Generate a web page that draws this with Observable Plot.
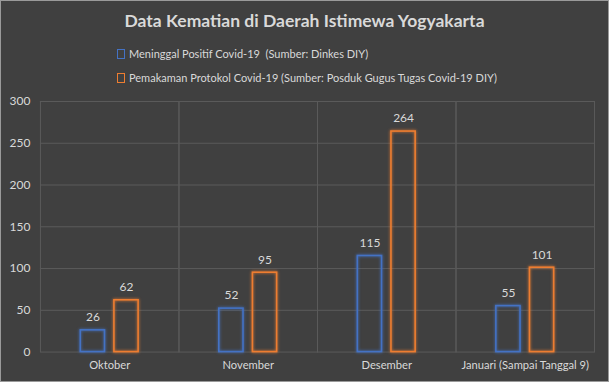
<!DOCTYPE html>
<html><head><meta charset="utf-8">
<script src="https://cdn.jsdelivr.net/npm/d3@7"></script>
<script src="https://cdn.jsdelivr.net/npm/@observablehq/plot@0.6"></script>
<style>
html,body{margin:0;padding:0;background:#404040;}
#wrap{position:relative;width:607px;height:380px;background:#404040;border:1px solid #9a9a9a;font-family:Lato,"Open Sans",sans-serif;color:#d9d9d9;overflow:hidden;}
#title{position:absolute;left:0;width:607px;top:9px;text-align:center;font-size:17.5px;font-weight:bold;color:#d9d9d9;}
.leg{position:absolute;left:116px;font-size:11px;color:#d9d9d9;white-space:nowrap;}
.sw{display:inline-block;width:6px;height:8px;border:1px solid;margin-right:4px;vertical-align:-1px;}
#chart{position:absolute;left:-1px;top:89px;}
.glowB rect{filter:drop-shadow(0 0 1.5px #4472C4);}
.glowO rect{filter:drop-shadow(0 0 1.5px #ED7D31);}
</style></head>
<body>
<div id="wrap">
  <div id="title"></div>
  <div class="leg" id="leg1" style="top:46px"></div>
  <div class="leg" id="leg2" style="top:70px"></div>
  <div id="chart"></div>
</div>
<script>
const title = "Data Kematian di Daerah Istimewa Yogyakarta";
const months = ["Oktober", "November", "Desember", "Januari (Sampai Tanggal 9)"];
const seriesNames = ["Meninggal Positif Covid-19  (Sumber: Dinkes DIY)", "Pemakaman Protokol Covid-19 (Sumber: Posduk Gugus Tugas Covid-19 DIY)"];
const seriesColors = ["#4472C4", "#ED7D31"];
const meninggal = [26, 52, 115, 55];
const pemakaman = [62, 95, 264, 101];
const yTicks = [0, 50, 100, 150, 200, 250, 300];

document.getElementById("title").textContent = title;
[["leg1",0],["leg2",1]].forEach(([id,i])=>{
  const el = document.getElementById(id);
  const sw = document.createElement("span"); sw.className="sw"; sw.style.borderColor=seriesColors[i];
  el.appendChild(sw);
  el.appendChild(document.createTextNode(seriesNames[i].replace(/ /g,"\u00a0")));
});

const rows = [];
months.forEach((m,i)=>{
  rows.push({month:m, series:"A", value:meninggal[i]});
  rows.push({month:m, series:"B", value:pemakaman[i]});
});
const rowsA = rows.filter(d=>d.series==="A");
const rowsB = rows.filter(d=>d.series==="B");

const chart = Plot.plot({
  width: 609,
  height: 293,
  marginTop: 11,
  marginBottom: 31,
  marginLeft: 40,
  marginRight: 14,
  style: {background:"transparent", color:"#d9d9d9", fontSize:"12px", fontFamily:"Lato, 'Open Sans', sans-serif"},
  fx: {domain: months, padding: 0, round: false, label: null, axis: "bottom", tickSize: 0, tickPadding: 9},
  x: {domain: ["A","B"], round: false, paddingInner: 0.28, paddingOuter: 1.2, axis: null},
  y: {domain: [0, 300], ticks: yTicks, label: null, tickSize: 0, tickPadding: 10},
  marks: [
    Plot.ruleY(yTicks.filter(d=>d>0), {stroke:"#5a5a5a", strokeWidth:1}),
    Plot.frame({stroke:"#5a5a5a", strokeWidth:1}),
    Plot.barY(rowsA, {fx:"month", x:"series", y:"value", fill:"none", stroke:seriesColors[0], strokeWidth:1.6, className:"glowB"}),
    Plot.barY(rowsB, {fx:"month", x:"series", y:"value", fill:"none", stroke:seriesColors[1], strokeWidth:1.6, className:"glowO"}),
    Plot.text(rows, {fx:"month", x:"series", y:"value", text:d=>String(d.value), dy:-13, fill:"#d9d9d9", fontSize:12})
  ]
});
chart.querySelectorAll("[aria-label='fx-axis tick label'] text, [aria-label='fx-axis'] text").forEach(t=>t.setAttribute("font-size","11.2"));
document.getElementById("chart").appendChild(chart);
</script>
</body></html>
